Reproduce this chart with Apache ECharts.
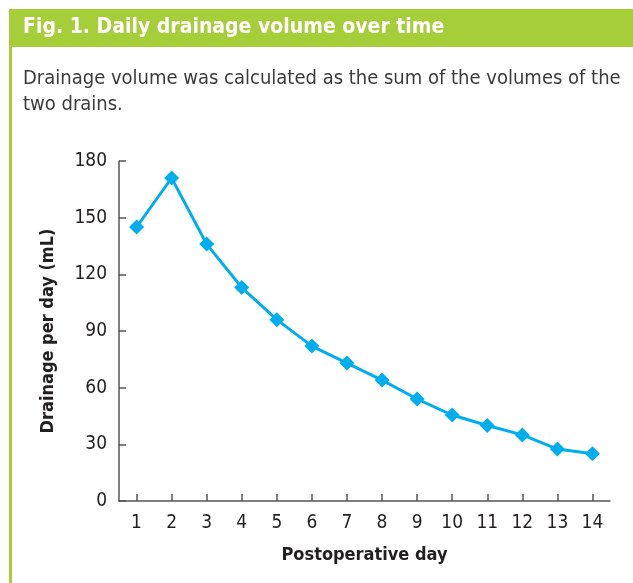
<!DOCTYPE html>
<html>
<head>
<meta charset="utf-8">
<script src="https://cdn.jsdelivr.net/npm/echarts@6/dist/echarts.min.js"></script>
<style>
html,body{margin:0;padding:0;background:#fff;}
#chart{width:633px;height:583px;}
</style>
</head>
<body>
<div id="chart"></div>
<script>
const days = ['1','2','3','4','5','6','7','8','9','10','11','12','13','14'];
const drainage = [145, 171, 136, 113, 96, 82, 73, 64, 54, 45.5, 40, 35, 27.5, 25];
const yTicks = [0, 30, 60, 90, 120, 150, 180];
const figTitle = 'Fig. 1. Daily drainage volume over time';
const figNote = 'Drainage volume was calculated as the sum of the volumes of the\ntwo drains.';
const xName = 'Postoperative day';
const yName = 'Drainage per day (mL)';

const FONT = "'Liberation Sans Narrow', 'DejaVu Sans Condensed', 'Noto Sans', sans-serif";
const GREEN = '#a6ce39';
const BLUE = '#00aeef';
const DARK = '#231f20';

const chart = echarts.init(document.getElementById('chart'), null, {renderer: 'canvas'});
chart.setOption({
  animation: false,
  backgroundColor: '#fff',
  graphic: [
    {type: 'rect', left: 9, top: 9, shape: {width: 624, height: 38}, style: {fill: GREEN}, z: 0},
    {type: 'rect', left: 9, top: 9, shape: {width: 3, height: 574}, style: {fill: GREEN}, z: 0}
  ],
  title: [
    {text: figTitle, left: 23, top: 17, padding: 0,
     textStyle: {fontFamily: FONT, fontSize: 21, fontWeight: 'bold', color: '#fff'}},
    {text: figNote, left: 23, top: 66, padding: 0,
     textStyle: {fontFamily: FONT, fontSize: 20, fontWeight: 'normal', color: '#3b3b3b', lineHeight: 26}}
  ],
  grid: {left: 119, right: 23, top: 161, bottom: 82, containLabel: false},
  xAxis: {
    type: 'category',
    data: days,
    boundaryGap: true,
    name: xName,
    nameLocation: 'middle',
    nameGap: 45,
    nameTextStyle: {fontFamily: FONT, fontSize: 18, fontWeight: 'bold', color: DARK},
    axisLine: {lineStyle: {color: '#555', width: 1.5}},
    axisTick: {show: true, inside: true, length: 7, alignWithLabel: true, lineStyle: {color: '#555', width: 1.5}},
    axisLabel: {margin: 13, fontFamily: FONT, fontSize: 19, fontWeight: 500, color: DARK, interval: 0},
    splitLine: {show: false}
  },
  yAxis: {
    type: 'value',
    min: yTicks[0],
    max: yTicks[yTicks.length - 1],
    interval: yTicks[1] - yTicks[0],
    name: yName,
    nameLocation: 'middle',
    nameGap: 62,
    nameRotate: 90,
    nameTextStyle: {fontFamily: FONT, fontSize: 18, fontWeight: 'bold', color: DARK},
    axisLine: {show: true, lineStyle: {color: '#555', width: 1.5}},
    axisTick: {show: true, inside: true, length: 7, lineStyle: {color: '#555', width: 1.5}},
    axisLabel: {margin: 12, fontFamily: FONT, fontSize: 19, fontWeight: 500, color: DARK},
    splitLine: {show: false}
  },
  series: [{
    type: 'line',
    data: drainage,
    symbol: 'diamond',
    symbolSize: 15,
    itemStyle: {color: BLUE},
    lineStyle: {color: BLUE, width: 3},
    z: 3
  }]
});
</script>
</body>
</html>
